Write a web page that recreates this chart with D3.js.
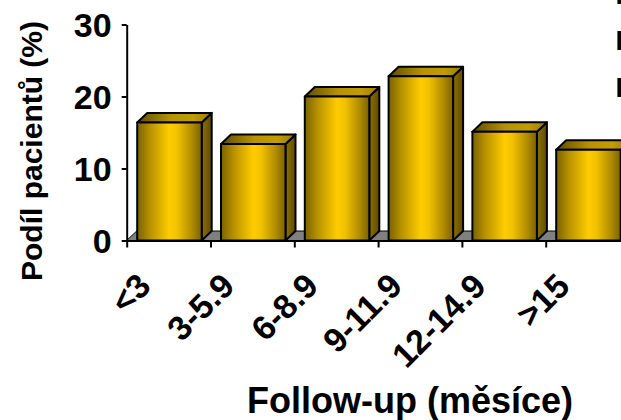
<!DOCTYPE html>
<html><head><meta charset="utf-8">
<script src="https://cdn.jsdelivr.net/npm/d3@7"></script>
<style>html,body{margin:0;padding:0;background:#fff;overflow:hidden}</style>
</head><body><svg id="c" width="621" height="420"></svg>
<script>
const categories = ["<3", "3-5.9", "6-8.9", "9-11.9", "12-14.9", ">15"];
const values = [16.4, 13.4, 20.0, 22.8, 15.1, 12.6];
const yTicks = [0, 10, 20, 30];
const yTitle = "Podíl pacientů (%)";
const xTitle = "Follow-up (měsíce)";
const legendLabels = ["Data", "Data", "Data"];

const FONT = "'Liberation Sans', Arial, Helvetica, sans-serif";
const svg = d3.select("#c");
svg.append("rect").attr("width", 621).attr("height", 420).attr("fill", "#fff");

const x = d3.scaleBand().domain(categories).range([126.7, 629.5]).padding(0);
const y = d3.scaleLinear().domain([0, 30]).range([240.5, 24.5]);
const dx = 10, dy = 9.5;
const barOff = 10.5, barW = 64.5;

const defs = svg.append("defs");
function grad(id, stops) {
  const g = defs.append("linearGradient").attr("id", id).attr("x1", "0").attr("x2", "1").attr("y1", "0").attr("y2", "0");
  stops.forEach(s => g.append("stop").attr("offset", s[0]).attr("stop-color", s[1]));
}
grad("gFront", [[0, "#7a6200"], [0.2, "#b89200"], [0.5, "#ffcc00"], [0.62, "#f2c200"], [0.85, "#b08c00"], [1, "#7a6100"]]);
grad("gSide", [[0, "#8c7000"], [1, "#5e4b00"]]);
grad("gTop", [[0, "#5e4c00"], [0.45, "#b89300"], [0.75, "#c29c00"], [1, "#9a7b00"]]);

// floor
const x0 = x.range()[0], x1 = x.range()[1], yb = y(0);
svg.append("polygon")
  .attr("points", [[x0, yb], [x1, yb], [x1 + dx, yb - dy], [x0 + dx, yb - dy]].map(p => p.join(",")).join(" "))
  .attr("fill", "#808080").attr("stroke", "#000").attr("stroke-width", 1);

// bars
const data = categories.map((c, i) => ({c, v: values[i]}));
const bars = svg.append("g").selectAll("g").data(data).join("g")
  .attr("stroke", "#000").attr("stroke-width", 2).attr("stroke-linejoin", "round");
bars.each(function(d) {
  const g = d3.select(this);
  const bx = x(d.c) + barOff, top = y(d.v), bot = y(0);
  const pts = a => a.map(p => p.join(",")).join(" ");
  g.append("polygon").attr("fill", "url(#gSide)")
    .attr("points", pts([[bx + barW, top], [bx + barW + dx, top - dy], [bx + barW + dx, bot - dy], [bx + barW, bot]]));
  g.append("polygon").attr("fill", "url(#gTop)")
    .attr("points", pts([[bx, top], [bx + barW, top], [bx + barW + dx, top - dy], [bx + dx, top - dy]]));
  g.append("rect").attr("fill", "url(#gFront)")
    .attr("x", bx).attr("y", top).attr("width", barW).attr("height", bot - top);
});

// y axis
const yAxis = svg.append("g").attr("transform", `translate(${x0},0)`)
  .call(d3.axisLeft(y).tickValues(yTicks).tickFormat(d3.format("d")).tickSize(5).tickSizeOuter(0).tickPadding(10));
yAxis.select(".domain").attr("stroke", "#000").attr("stroke-width", 2);
yAxis.selectAll(".tick line").attr("stroke", "#000").attr("stroke-width", 2);
yAxis.selectAll(".tick text").attr("font-family", FONT).attr("font-weight", "bold")
  .attr("font-size", 34).attr("fill", "#000").attr("dy", "0.36em");

// x axis (category boundaries)
const xb = d3.scaleLinear().domain([0, categories.length]).range(x.range());
const xAxis = svg.append("g").attr("transform", `translate(0,${yb})`)
  .call(d3.axisBottom(xb).tickValues(d3.range(categories.length)).tickFormat("").tickSize(7).tickSizeOuter(0));
xAxis.select(".domain").attr("stroke", "#000").attr("stroke-width", 2);
xAxis.selectAll(".tick line").attr("stroke", "#000").attr("stroke-width", 2);

// rotated category labels
svg.append("g").selectAll("text").data(categories).join("text")
  .attr("transform", d => `translate(${x(d) + x.bandwidth() / 2 - 16},288) rotate(-45)`)
  .attr("text-anchor", "end")
  .attr("font-family", FONT).attr("font-weight", "bold").attr("font-size", 34).attr("fill", "#000")
  .text(d => d);

// axis titles
svg.append("text").attr("transform", "translate(42,151) rotate(-90)")
  .attr("text-anchor", "middle").attr("font-family", FONT).attr("font-weight", "bold")
  .attr("font-size", 30).attr("fill", "#000").text(yTitle);
svg.append("text").attr("x", 410).attr("y", 413)
  .attr("text-anchor", "middle").attr("font-family", FONT).attr("font-weight", "bold")
  .attr("font-size", 36).attr("fill", "#000").text(xTitle);

// legend (cut off at right edge, as in the reference)
svg.append("g").selectAll("text").data(legendLabels).join("text")
  .attr("x", 615.5).attr("y", (d, i) => 3.5 + i * 46.5)
  .attr("font-family", FONT).attr("font-weight", "bold").attr("font-size", 28).attr("fill", "#000")
  .text(d => d);
</script></body></html>
